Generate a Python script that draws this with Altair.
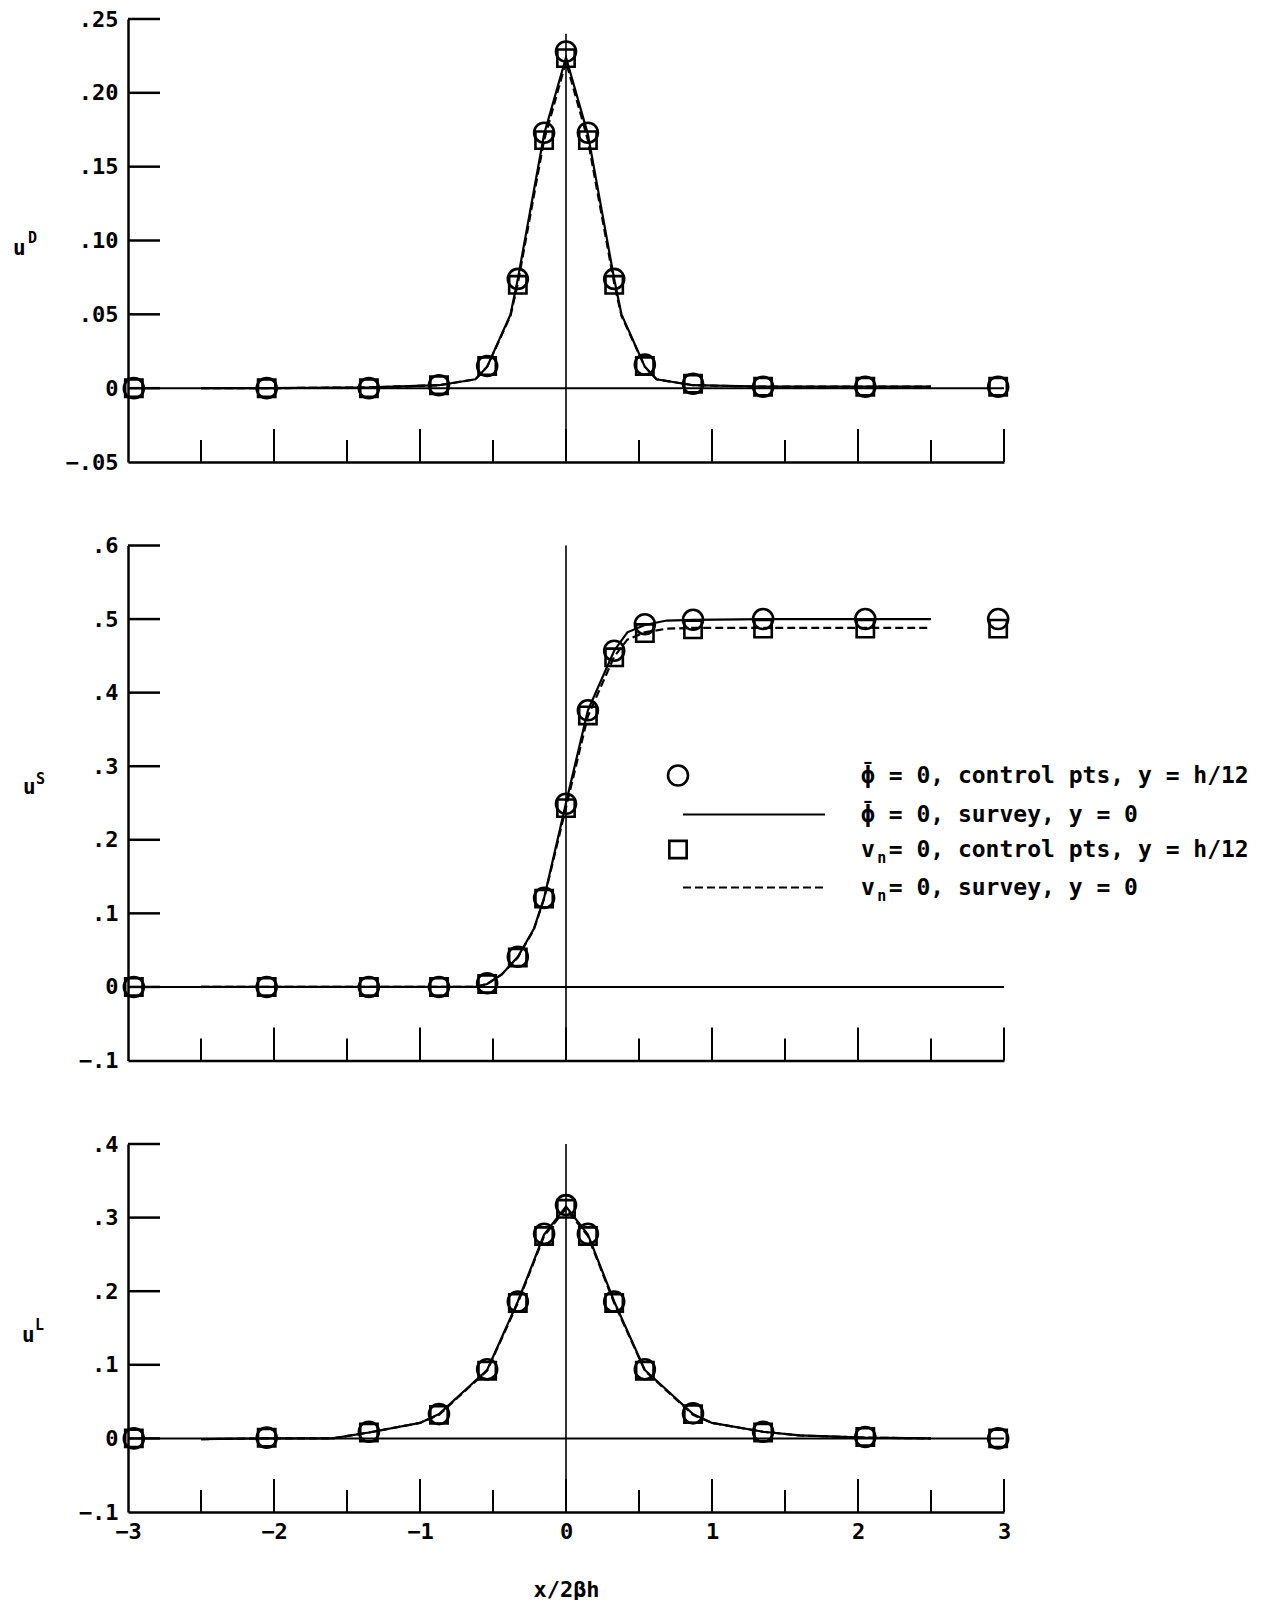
import altair as alt
import pandas as pd

FONT = "DejaVu Sans Mono"
INK = "black"

# ---------------- data ----------------
ctrl_x = [-2.96, -2.05, -1.35, -0.87, -0.54, -0.33, -0.15, 0.0,
          0.15, 0.33, 0.54, 0.87, 1.35, 2.05, 2.96]

# u^D panel
uD_circle = [0.0, 0.0, 0.0, 0.002, 0.015, 0.074, 0.173, 0.228,
             0.173, 0.074, 0.016, 0.003, 0.001, 0.001, 0.001]
uD_square = [0.0, 0.0, 0.0, 0.002, 0.015, 0.070, 0.168, 0.2235,
             0.168, 0.070, 0.015, 0.003, 0.001, 0.001, 0.001]
uD_survey_x = [-2.5, -2.05, -1.35, -0.87, -0.62, -0.54, -0.38, -0.33, -0.15, 0.0,
               0.15, 0.33, 0.38, 0.54, 0.62, 0.87, 1.35, 2.05, 2.5]
uD_survey_solid = [0.0, 0.0, 0.0005, 0.002, 0.006, 0.0145, 0.050, 0.074, 0.172, 0.224,
                   0.172, 0.074, 0.050, 0.0145, 0.006, 0.002, 0.001, 0.001, 0.001]
uD_survey_dashed = [0.0, 0.0, 0.0005, 0.002, 0.006, 0.0145, 0.049, 0.071, 0.168, 0.221,
                    0.168, 0.071, 0.049, 0.0145, 0.006, 0.002, 0.001, 0.001, 0.001]

# u^S panel
uS_circle = [0.0, 0.0, 0.0, 0.0, 0.005, 0.041, 0.121, 0.249,
             0.376, 0.457, 0.493, 0.499, 0.5, 0.5, 0.5]
uS_square = [0.0, 0.0, 0.0, 0.0, 0.004, 0.040, 0.120, 0.243,
             0.369, 0.448, 0.481, 0.486, 0.487, 0.487, 0.487]
uS_survey_x = [-2.5, -2.05, -1.35, -0.87, -0.62, -0.54, -0.44, -0.33, -0.22, -0.15, 0.0,
               0.15, 0.33, 0.42, 0.54, 0.69, 0.87, 1.35, 2.05, 2.5]
uS_survey_solid = [0.0, 0.0, 0.0, 0.0, 0.0, 0.004, 0.017, 0.041, 0.079, 0.121, 0.25,
                   0.376, 0.457, 0.482, 0.492, 0.498, 0.499, 0.5, 0.5, 0.5]
uS_survey_dashed = [0.0, 0.0, 0.0, 0.0, 0.0, 0.004, 0.017, 0.040, 0.078, 0.120, 0.244,
                    0.368, 0.449, 0.472, 0.482, 0.487, 0.488, 0.488, 0.488, 0.488]

# u^L panel
uL_circle = [0.0, 0.001, 0.009, 0.033, 0.094, 0.186, 0.278, 0.317,
             0.278, 0.186, 0.094, 0.034, 0.009, 0.002, 0.0]
uL_square = [0.0, 0.001, 0.008, 0.032, 0.092, 0.184, 0.275, 0.312,
             0.275, 0.184, 0.092, 0.033, 0.008, 0.002, 0.0]
uL_survey_x = [-2.5, -2.05, -1.6, -1.35, -1.0, -0.87, -0.54, -0.33, -0.15, 0.0,
               0.15, 0.33, 0.54, 0.87, 1.0, 1.35, 1.6, 2.05, 2.5]
uL_survey_solid = [-0.001, 0.0, 0.0, 0.008, 0.021, 0.033, 0.093, 0.186, 0.277, 0.315,
                   0.277, 0.186, 0.093, 0.033, 0.021, 0.009, 0.004, 0.001, 0.0]
uL_survey_dashed = [-0.001, 0.0, 0.0, 0.008, 0.021, 0.032, 0.092, 0.184, 0.275, 0.312,
                    0.275, 0.184, 0.092, 0.032, 0.021, 0.009, 0.004, 0.001, 0.0]

# axes: ticks and labels
x_major_ticks = [-2, -1, 0, 1, 2, 3]
x_minor_ticks = [-2.5, -1.5, -0.5, 0.5, 1.5, 2.5]
x_label_vals = [-3, -2, -1, 0, 1, 2, 3]
x_labels = ["−3", "−2", "−1", "0", "1", "2", "3"]

uD_ticks = [-0.05, 0.0, 0.05, 0.10, 0.15, 0.20, 0.25]
uD_labels = ["−.05", "0", ".05", ".10", ".15", ".20", ".25"]
uS_ticks = [-0.1, 0.0, 0.1, 0.2, 0.3, 0.4, 0.5, 0.6]
uS_labels = ["−.1", "0", ".1", ".2", ".3", ".4", ".5", ".6"]
uL_ticks = [-0.1, 0.0, 0.1, 0.2, 0.3, 0.4]
uL_labels = ["−.1", "0", ".1", ".2", ".3", ".4"]

# legend: main text, with the bar over phi and the subscript n drawn as small texts
legend_labels = [
    "\u03d5 = 0, control pts, y = h/12",
    "\u03d5 = 0, survey, y = 0",
    "v = 0, control pts, y = h/12",
    "v = 0, survey, y = 0",
]
legend_marks = ["\u00af", "\u00af", "n", "n"]

W = 876
LW = 2.5
LEG_FS = 23
CELL = 0.602 * LEG_FS


def label_expr(vals, labels):
    parts = [f"datum.value == {v} ? '{l}'" for v, l in zip(vals, labels)]
    return " : ".join(parts) + " : ''"


def text_layer(txt, x, y, size, align="left", weight="bold"):
    return alt.Chart(pd.DataFrame({"t": [txt]})).mark_text(
        align=align, baseline="middle", font=FONT, fontSize=size,
        fontWeight=weight, color=INK
    ).encode(x=alt.value(x), y=alt.value(y), text="t:N")


def make_panel(circ, sq, sx, ssolid, sdash, ydom, yticks, ylabels, ytop, height,
               letter, tpos, bottom=False, legend=False):
    if bottom:
        xaxis = alt.Axis(values=x_label_vals, labelExpr=label_expr(x_label_vals, x_labels),
                         ticks=False, tickSize=0, grid=False, domainColor=INK,
                         domainWidth=LW, labelFont=FONT, labelFontSize=22,
                         labelFontWeight="bold", labelColor=INK, labelPadding=9,
                         labelFlush=False, labelOverlap=False, title="x/2\u03b2h",
                         titleFont=FONT, titleFontSize=22, titleFontWeight="bold",
                         titleColor=INK, titlePadding=37)
    else:
        xaxis = alt.Axis(labels=False, ticks=False, tickSize=0, grid=False,
                         domainColor=INK, domainWidth=LW, title=None)
    yaxis = alt.Axis(values=yticks, labelExpr=label_expr(yticks, ylabels), ticks=False,
                     tickSize=0, grid=False, domainColor=INK, domainWidth=LW,
                     labelFont=FONT, labelFontSize=22, labelFontWeight="bold",
                     labelColor=INK, labelPadding=10, labelFlush=False,
                     labelOverlap=False, title=None)
    X = alt.X("x:Q", scale=alt.Scale(domain=[-3, 3], nice=False, zero=False), axis=xaxis)
    Y = alt.Y("y:Q", scale=alt.Scale(domain=ydom, nice=False, zero=False), axis=yaxis)

    layers = []
    # inward y ticks
    layers.append(alt.Chart(pd.DataFrame({"y": [t for t in yticks if t != ydom[0]]}))
                  .mark_rule(color=INK, strokeWidth=LW)
                  .encode(y=Y, x=alt.value(0), x2=alt.value(32)))
    # inward x ticks
    layers.append(alt.Chart(pd.DataFrame({"x": x_major_ticks}))
                  .mark_rule(color=INK, strokeWidth=2)
                  .encode(x=X, y=alt.value(height), y2=alt.value(height - 33)))
    layers.append(alt.Chart(pd.DataFrame({"x": x_minor_ticks}))
                  .mark_rule(color=INK, strokeWidth=2)
                  .encode(x=X, y=alt.value(height), y2=alt.value(height - 22)))
    # zero reference lines
    layers.append(alt.Chart(pd.DataFrame({"x": [-3], "x2": [3], "y": [0]}))
                  .mark_rule(color=INK, strokeWidth=2)
                  .encode(x=X, x2="x2:Q", y=Y))
    layers.append(alt.Chart(pd.DataFrame({"x": [0], "y": [ydom[0]], "y2": [ytop]}))
                  .mark_rule(color=INK, strokeWidth=1.6)
                  .encode(x=X, y=Y, y2="y2:Q"))
    # survey lines
    layers.append(alt.Chart(pd.DataFrame({"x": sx, "y": sdash}))
                  .mark_line(color=INK, strokeWidth=2.2, strokeDash=[8, 4])
                  .encode(x=X, y=Y))
    layers.append(alt.Chart(pd.DataFrame({"x": sx, "y": ssolid}))
                  .mark_line(color=INK, strokeWidth=2.2)
                  .encode(x=X, y=Y))
    # control points
    layers.append(alt.Chart(pd.DataFrame({"x": ctrl_x, "y": sq}))
                  .mark_point(shape="square", filled=False, size=300, strokeWidth=2.6,
                              color=INK, opacity=1)
                  .encode(x=X, y=Y))
    layers.append(alt.Chart(pd.DataFrame({"x": ctrl_x, "y": circ}))
                  .mark_point(shape="circle", filled=False, size=400, strokeWidth=2.6,
                              color=INK, opacity=1)
                  .encode(x=X, y=Y))
    # y title u^letter
    ux, uy, lx, ly = tpos
    layers.append(text_layer("u", ux, uy, 21))
    layers.append(text_layer(letter, lx, ly, 15))

    if legend:
        rows = [230, 269, 304, 342]
        tx = 733
        layers.append(alt.Chart(pd.DataFrame({"t": [0]})).mark_point(
            shape="circle", filled=False, size=400, strokeWidth=2.6, color=INK, opacity=1
        ).encode(x=alt.value(550), y=alt.value(rows[0])))
        layers.append(alt.Chart(pd.DataFrame({"t": [0]})).mark_point(
            shape="square", filled=False, size=300, strokeWidth=2.6, color=INK, opacity=1
        ).encode(x=alt.value(550), y=alt.value(rows[2])))
        layers.append(alt.Chart(pd.DataFrame({"t": [0]})).mark_rule(
            color=INK, strokeWidth=2.2
        ).encode(x=alt.value(555), x2=alt.value(697), y=alt.value(rows[1])))
        layers.append(alt.Chart(pd.DataFrame({"t": [0]})).mark_rule(
            color=INK, strokeWidth=2.2, strokeDash=[8, 4]
        ).encode(x=alt.value(555), x2=alt.value(697), y=alt.value(rows[3])))
        for lab, mk, ry in zip(legend_labels, legend_marks, rows):
            layers.append(text_layer(lab, tx, ry, LEG_FS))
            if mk == "n":
                layers.append(text_layer(mk, tx + CELL * 1.5, ry + 8, 15, align="center"))
            else:
                layers.append(text_layer(mk, tx + CELL * 0.5, ry - 3, LEG_FS, align="center"))

    return alt.layer(*layers).properties(width=W, height=height)


top = make_panel(uD_circle, uD_square, uD_survey_x, uD_survey_solid, uD_survey_dashed,
                 [-0.05, 0.25], uD_ticks, uD_labels, 0.24, 443, "D",
                 (-115, 230, -100, 219))
mid = make_panel(uS_circle, uS_square, uS_survey_x, uS_survey_solid, uS_survey_dashed,
                 [-0.1, 0.6], uS_ticks, uS_labels, 0.6, 515, "S",
                 (-105, 242, -92, 233), legend=True)
bot = make_panel(uL_circle, uL_square, uL_survey_x, uL_survey_solid, uL_survey_dashed,
                 [-0.1, 0.4], uL_ticks, uL_labels, 0.4, 368, "L",
                 (-106, 192, -93, 181), bottom=True)

chart = alt.vconcat(top, mid, bot, spacing=83.5, bounds="flush").properties(
    padding={"left": 5, "top": 0, "right": 5, "bottom": 0},
    background="white",
).configure_view(stroke=None)

chart.save("out.html", embed_options={"renderer": "svg", "actions": False})
